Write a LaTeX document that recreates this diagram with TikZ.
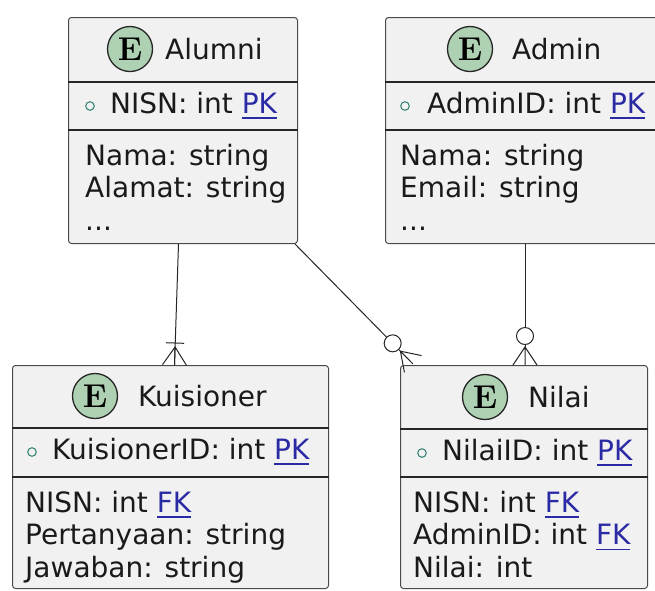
\documentclass[tikz,border=0pt]{standalone}
\usepackage{fontspec}
\setmainfont{DejaVu Sans}
\newfontfamily\efont{Latin Modern Roman}
\usetikzlibrary{calc}

\definecolor{entfill}{HTML}{F1F1F1}
\definecolor{entline}{HTML}{4A4A4A}
\definecolor{badgefill}{HTML}{ADD1B2}
\definecolor{keyblue}{HTML}{2A2AA5}
\definecolor{keyring}{HTML}{2F7F6F}
\definecolor{inktext}{HTML}{1A1A1A}

% key marker: blue text with a low underline
\newcommand{\pk}[1]{\textcolor{keyblue}{\setbox0\hbox{#1}\rlap{\rule[-5.5pt]{\wd0}{1.4pt}}\box0}}

% crow's foot ("many") at entity end #2, line coming from #1
\newcommand{\crowfoot}[2]{%
  \coordinate (cfapex) at ($(#2)!18pt!(#1)$);
  \draw[conn] ($(#2)!12pt!90:(#1)$) -- (cfapex) -- ($(#2)!12pt!-90:(#1)$)
              (cfapex) -- (#2);}
% single bar ("one") just beyond the crow's foot
\newcommand{\onebar}[2]{%
  \coordinate (obmid) at ($(#2)!22pt!(#1)$);
  \draw[conn] ($(obmid)!9pt!90:(#1)$) -- ($(obmid)!9pt!-90:(#1)$);}
% open ring ("zero") beyond the crow's foot
\newcommand{\zeroring}[2]{%
  \coordinate (zrmid) at ($(#2)!29pt!(#1)$);
  \draw[conn, fill=white] (zrmid) circle[radius=8.5pt];}

\tikzset{
  entbox/.style={draw=entline, fill=entfill, line width=1pt, rounded corners=3pt,
                 anchor=north west, inner sep=0pt},
  sepline/.style={draw=black!85, line width=1.2pt},
  badge/.style={circle, draw=black!85, fill=badgefill, line width=1.3pt,
                minimum size=45pt, inner sep=0pt,
                font=\efont\bfseries\fontsize{33}{33}\selectfont},
  txt/.style={anchor=base west, inner sep=0pt, text=inktext,
              font=\fontsize{28}{33}\selectfont},
  keymark/.style={draw=keyring, line width=1pt},
  conn/.style={draw=black!85, line width=1pt},
}

\begin{document}
\begin{tikzpicture}[x=1pt,y=-1pt]
\useasboundingbox (0,0) rectangle (655,590);
\clip (0,0) rectangle (655,590);
\fill[white] (0,0) rectangle (655,590);

% ---------- Alumni ----------
\node[entbox, minimum width=229pt, minimum height=226pt] (alumni) at (68,17) {};
\draw[sepline] ($(alumni.north west)+(0,65)$) -- ($(alumni.north east)+(0,65)$);
\draw[sepline] ($(alumni.north west)+(0,113)$) -- ($(alumni.north east)+(0,113)$);
\node[badge] (alumniE) at (130,49) {E};
\node[txt] (alumniT) at (165,59) {Alumni};
\draw[keymark] (90,106) circle[radius=4.3pt];
\node[txt] (alumniK) at (110,113) {NISN: int \pk{PK}};
\node[txt] (alumniA1) at (85,165) {Nama: string};
\node[txt] (alumniA2) at (85,197.5) {Alamat: string};
\node[txt] (alumniA3) at (85,230) {...};

% ---------- Admin ----------
\node[entbox, minimum width=279pt, minimum height=226pt] (admin) at (385,17) {};
\draw[sepline] ($(admin.north west)+(0,65)$) -- ($(admin.north east)+(0,65)$);
\draw[sepline] ($(admin.north west)+(0,113)$) -- ($(admin.north east)+(0,113)$);
\node[badge] (adminE) at (470,49) {E};
\node[txt] (adminT) at (512,59) {Admin};
\draw[keymark] (405,106) circle[radius=4.3pt];
\node[txt] (adminK) at (427,113) {AdminID: int \pk{PK}};
\node[txt] (adminA1) at (400,165) {Nama: string};
\node[txt] (adminA2) at (400,197.5) {Email: string};
\node[txt] (adminA3) at (400,230) {...};

% ---------- Kuisioner ----------
\node[entbox, minimum width=316pt, minimum height=223pt] (kuis) at (12,365) {};
\draw[sepline] ($(kuis.north west)+(0,63)$) -- ($(kuis.north east)+(0,63)$);
\draw[sepline] ($(kuis.north west)+(0,112)$) -- ($(kuis.north east)+(0,112)$);
\node[badge] (kuisE) at (95,396) {E};
\node[txt] (kuisT) at (138,406) {Kuisioner};
\draw[keymark] (32,452) circle[radius=4.3pt];
\node[txt] (kuisK) at (52,459) {KuisionerID: int \pk{PK}};
\node[txt] (kuisA1) at (25,512) {NISN: int \pk{FK}};
\node[txt] (kuisA2) at (25,544.5) {Pertanyaan: string};
\node[txt] (kuisA3) at (25,577) {Jawaban: string};

% ---------- Nilai ----------
\node[entbox, minimum width=247pt, minimum height=223pt] (nilai) at (400,365) {};
\draw[sepline] ($(nilai.north west)+(0,64)$) -- ($(nilai.north east)+(0,64)$);
\draw[sepline] ($(nilai.north west)+(0,112)$) -- ($(nilai.north east)+(0,112)$);
\node[badge] (nilaiE) at (485,397) {E};
\node[txt] (nilaiT) at (528,407) {Nilai};
\draw[keymark] (422,453) circle[radius=4.3pt];
\node[txt] (nilaiK) at (442,460) {NilaiID: int \pk{PK}};
\node[txt] (nilaiA1) at (413,512) {NISN: int \pk{FK}};
\node[txt] (nilaiA2) at (413,544.5) {AdminID: int \pk{FK}};
\node[txt] (nilaiA3) at (413,577) {Nilai: int};

% ---------- Relationships ----------
% Alumni -- one or many Kuisioner
\coordinate (ak1) at ([xshift=-4.5pt]alumni.south);
\coordinate (ak2) at ([xshift=4pt]kuis.north);
\draw[conn] (ak1) -- (ak2);
\crowfoot{ak1}{ak2}
\onebar{ak1}{ak2}

% Alumni -- zero or many Nilai
\coordinate (an1) at ([xshift=-3pt]alumni.south east);
\coordinate (an2) at ([xshift=13pt,yshift=1pt]nilai.north west);
\draw[conn] (an1) -- ($(an2)!18pt!(an1)$);
\crowfoot{an1}{an2}
\zeroring{an1}{an2}

% Admin -- zero or many Nilai
\coordinate (dn1) at (admin.south);
\coordinate (dn2) at (admin.south |- nilai.north);
\draw[conn] (dn1) -- ($(dn2)!18pt!(dn1)$);
\crowfoot{dn1}{dn2}
\zeroring{dn1}{dn2}
\end{tikzpicture}
\end{document}
